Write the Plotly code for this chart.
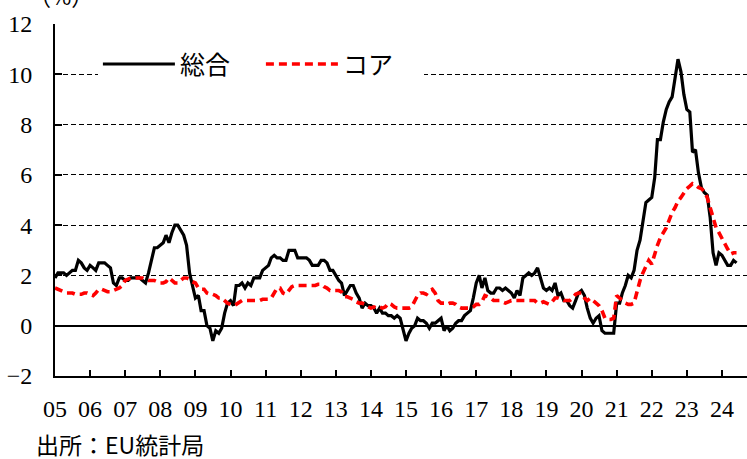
import pandas as pd
import plotly.graph_objects as go

# Monthly data, Jan 2005 - Jun 2024 (% y/y)
headline = [
    1.9, 2.1, 2.1, 2.1, 2.0, 2.1, 2.2, 2.2, 2.6, 2.5, 2.3, 2.2,   # 2005
    2.4, 2.3, 2.2, 2.5, 2.5, 2.5, 2.4, 2.3, 1.7, 1.6, 1.9, 1.9,   # 2006
    1.8, 1.8, 1.9, 1.9, 1.9, 1.9, 1.8, 1.7, 2.1, 2.6, 3.1, 3.1,   # 2007
    3.2, 3.3, 3.6, 3.3, 3.7, 4.0, 4.0, 3.8, 3.6, 3.2, 2.1, 1.6,   # 2008
    1.1, 1.2, 0.6, 0.6, 0.0, -0.1, -0.6, -0.2, -0.3, -0.1, 0.5, 0.9,  # 2009
    1.0, 0.8, 1.6, 1.6, 1.7, 1.5, 1.7, 1.6, 1.9, 1.9, 1.9, 2.2,   # 2010
    2.3, 2.4, 2.7, 2.8, 2.7, 2.7, 2.6, 2.6, 3.0, 3.0, 3.0, 2.7,   # 2011
    2.7, 2.7, 2.7, 2.6, 2.4, 2.4, 2.4, 2.6, 2.6, 2.5, 2.2, 2.2,   # 2012
    2.0, 1.8, 1.7, 1.2, 1.4, 1.6, 1.6, 1.3, 1.1, 0.7, 0.9, 0.8,   # 2013
    0.8, 0.7, 0.5, 0.7, 0.5, 0.5, 0.4, 0.4, 0.3, 0.4, 0.3, -0.2,  # 2014
    -0.6, -0.3, -0.1, 0.0, 0.3, 0.2, 0.2, 0.1, -0.1, 0.1, 0.1, 0.2,  # 2015
    0.3, -0.2, 0.0, -0.2, -0.1, 0.1, 0.2, 0.2, 0.4, 0.5, 0.6, 1.1,  # 2016
    1.7, 2.0, 1.5, 1.9, 1.4, 1.3, 1.3, 1.5, 1.5, 1.4, 1.5, 1.4,   # 2017
    1.3, 1.1, 1.4, 1.2, 1.9, 2.0, 2.1, 2.0, 2.1, 2.3, 1.9, 1.5,   # 2018
    1.4, 1.5, 1.4, 1.7, 1.2, 1.3, 1.0, 1.0, 0.8, 0.7, 1.0, 1.3,   # 2019
    1.4, 1.2, 0.7, 0.3, 0.1, 0.3, 0.4, -0.2, -0.3, -0.3, -0.3, -0.3,  # 2020
    0.9, 0.9, 1.3, 1.6, 2.0, 1.9, 2.2, 3.0, 3.4, 4.1, 4.9, 5.0,   # 2021
    5.1, 5.9, 7.4, 7.4, 8.1, 8.6, 8.9, 9.1, 9.9, 10.6, 10.1, 9.2,  # 2022
    8.6, 8.5, 6.9, 7.0, 6.1, 5.5, 5.3, 5.2, 4.3, 2.9, 2.4, 2.9,   # 2023
    2.8, 2.6, 2.4, 2.4, 2.6, 2.5,                                 # 2024
]

core = [
    1.5, 1.45, 1.4, 1.35, 1.3, 1.3, 1.3, 1.25, 1.25, 1.25, 1.3, 1.3,   # 2005
    1.25, 1.2, 1.3, 1.45, 1.45, 1.4, 1.35, 1.35, 1.4, 1.45, 1.5, 1.6,  # 2006
    1.8, 1.85, 1.9, 1.9, 1.9, 1.9, 1.9, 1.85, 1.8, 1.8, 1.8, 1.75,     # 2007
    1.7, 1.7, 1.75, 1.9, 1.8, 1.7, 1.7, 1.8, 1.9, 1.9, 1.85, 1.75,     # 2008
    1.7, 1.5, 1.45, 1.45, 1.3, 1.25, 1.25, 1.2, 1.1, 1.1, 1.0, 0.9,    # 2009
    0.85, 0.8, 0.85, 0.95, 1.0, 1.0, 1.0, 1.0, 1.0, 1.0, 1.0, 1.05,    # 2010
    1.05, 1.05, 1.1, 1.3, 1.5, 1.5, 1.3, 1.25, 1.4, 1.55, 1.6, 1.6,    # 2011
    1.6, 1.6, 1.6, 1.6, 1.6, 1.6, 1.65, 1.65, 1.55, 1.5, 1.4, 1.4,     # 2012
    1.4, 1.4, 1.35, 1.15, 1.15, 1.1, 1.05, 0.95, 0.9, 0.9, 0.85, 0.75, # 2013
    0.7, 0.75, 0.7, 0.75, 0.7, 0.75, 0.9, 0.85, 0.75, 0.7, 0.7, 0.7,   # 2014
    0.7, 0.7, 0.75, 0.95, 1.2, 1.3, 1.3, 1.25, 1.4, 1.45, 1.3, 1.0,    # 2015
    0.9, 0.9, 0.85, 0.9, 0.9, 0.85, 0.75, 0.7, 0.7, 0.7, 0.7, 0.75,    # 2016
    0.85, 0.85, 0.95, 1.2, 1.15, 1.1, 1.0, 1.0, 1.0, 0.95, 0.9, 0.95,  # 2017
    1.0, 1.0, 1.0, 1.0, 1.0, 1.0, 1.0, 1.0, 1.0, 0.9, 0.9, 0.95,       # 2018
    0.9, 0.85, 0.95, 1.1, 1.1, 1.05, 1.0, 1.0, 1.0, 1.1, 1.25, 1.3,    # 2019
    1.3, 1.1, 1.0, 1.1, 1.0, 0.9, 0.8, 0.6, 0.3, 0.25, 0.25, 0.3,      # 2020
    1.2, 1.1, 1.0, 0.9, 0.85, 0.85, 0.9, 1.4, 1.8, 2.1, 2.4, 2.6,      # 2021
    2.45, 2.9, 3.2, 3.5, 3.7, 3.9, 4.2, 4.5, 4.7, 4.95, 5.1, 5.3,      # 2022
    5.45, 5.55, 5.65, 5.6, 5.5, 5.45, 5.35, 5.1, 4.7, 4.3, 3.9, 3.7,   # 2023
    3.45, 3.25, 3.05, 2.85, 2.9, 2.9,                                  # 2024
]

months = pd.date_range("2005-01-01", periods=len(headline), freq="MS")

year_ticks = pd.date_range("2005-01-01", "2024-01-01", freq="YS")
year_labels = [f"{d.year % 100:02d}" for d in year_ticks]
y_ticks = [-2, 0, 2, 4, 6, 8, 10, 12]

series_names = ["総合", "コア"]

num_font = "Liberation Serif, DejaVu Serif, serif"
jp_font = "Noto Sans CJK JP, Noto Sans, sans-serif"

fig = go.Figure()
fig.add_trace(go.Scatter(
    x=months, y=headline, name=series_names[0], mode="lines",
    line=dict(color="black", width=3.2),
))
fig.add_trace(go.Scatter(
    x=months, y=core, name=series_names[1], mode="lines",
    line=dict(color="#ff0000", width=3.6, dash="8px,5px"),
))

fig.update_layout(
    width=747, height=459,
    margin=dict(l=55, r=0, t=24, b=83),
    paper_bgcolor="white", plot_bgcolor="white",
    showlegend=True,
    legend=dict(
        orientation="h", x=0.062, y=0.951, xanchor="left", yanchor="top",
        bgcolor="white", borderwidth=0,
        font=dict(family=jp_font, size=25, color="black"),
        itemwidth=72, entrywidth=76, entrywidthmode="pixels",
        traceorder="normal",
    ),
    xaxis=dict(
        type="date",
        range=["2005-01-01", "2024-09-18"],
        tickvals=year_ticks, ticktext=year_labels,
        ticks="inside", ticklen=6, tickwidth=2, tickcolor="black",
        showline=True, linecolor="black", linewidth=2,
        showgrid=False, zeroline=False,
        tickfont=dict(family=num_font, size=24, color="black"),
        ticklabelstandoff=10,
    ),
    yaxis=dict(
        range=[-2, 12],
        tickvals=y_ticks,
        ticks="inside", ticklen=7, tickwidth=2, tickcolor="black",
        showline=True, linecolor="black", linewidth=2,
        showgrid=True, gridcolor="black", gridwidth=1, griddash="5px,3px",
        zeroline=True, zerolinecolor="black", zerolinewidth=2,
        tickfont=dict(family=num_font, size=24, color="black"),
        ticklabelstandoff=16,
    ),
    annotations=[
        dict(text="（%）", xref="paper", yref="paper", x=0.0, y=1.0,
             xanchor="center", yanchor="middle", yshift=29, xshift=6,
             showarrow=False, font=dict(family=jp_font, size=22, color="black")),
        dict(text="出所：EU統計局", xref="paper", yref="paper", x=0.0, y=0.0,
             xanchor="left", yanchor="middle", xshift=-21, yshift=-68,
             showarrow=False, font=dict(family=jp_font, size=23, color="black")),
    ],
)

fig.write_html("out.html", config={"displayModeBar": False},
               post_script="document.body.style.margin='0';")
